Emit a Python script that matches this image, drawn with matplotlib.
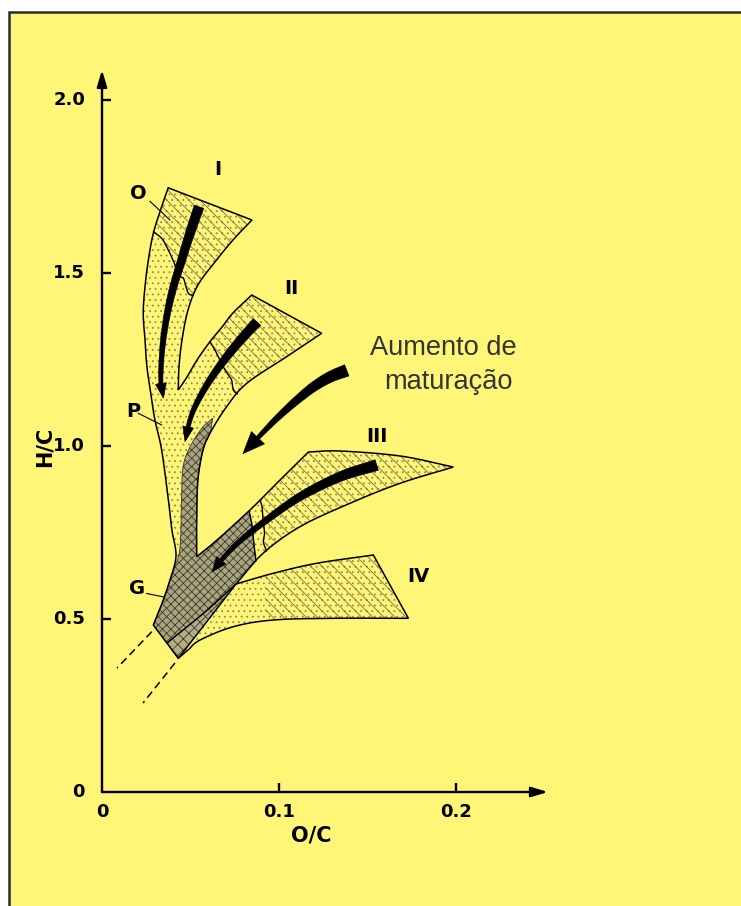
import numpy as np
import matplotlib
matplotlib.use("Agg")
import matplotlib.pyplot as plt
from matplotlib.patches import Polygon, Rectangle

W, H, DPI = 741, 906, 100
YELLOW = "#FFF577"

# ---------------- axis data ----------------
x_ticks = [0.1, 0.2]
x_tick_labels = ["0.1", "0.2"]
y_ticks = [0.5, 1.0, 1.5, 2.0]
y_tick_labels = ["0.5", "1.0", "1.5", "2.0"]
x_axis_end = 0.252
y_axis_end = 2.087

# ---------------- kerogen band outlines (O/C, H/C) ----------------
I_top = [(0.0374, 1.7462), (0.0847, 1.6532)]
I_inner = [(0.0847, 1.6532), (0.0740, 1.5954), (0.0638, 1.5318), (0.0542, 1.4653),
           (0.0486, 1.3931), (0.0452, 1.3064), (0.0435, 1.2283), (0.0431, 1.1618)]
II_left = [(0.0431, 1.1618), (0.0480, 1.1994), (0.0537, 1.2486), (0.0610, 1.3015),
           (0.0678, 1.3439), (0.0740, 1.3844), (0.0846, 1.4364)]
II_top = [(0.0846, 1.4364), (0.1241, 1.3257)]
II_inner = [(0.1241, 1.3257), (0.1043, 1.2581), (0.0818, 1.1812), (0.0704, 1.1136),
            (0.0610, 1.0367), (0.0571, 0.9884), (0.0542, 0.9017), (0.0535, 0.7861),
            (0.0535, 0.6801)]
III_upper = [(0.0535, 0.6801), (0.0650, 0.7283), (0.0836, 0.8150), (0.0989, 0.8931),
             (0.1166, 0.9827)]
III_top = [(0.1166, 0.9827), (0.1345, 0.9855), (0.1684, 0.9711), (0.1985, 0.9393)]
III_lower = [(0.1985, 0.9393), (0.1684, 0.8922), (0.1401, 0.8344), (0.1119, 0.7668),
             (0.0910, 0.6899), (0.0757, 0.6012)]
IV_upper = [(0.0757, 0.6012), (0.0968, 0.6321), (0.1213, 0.6610), (0.1533, 0.6850)]
IV_right = [(0.1533, 0.6850), (0.1731, 0.5020)]
IV_lower = [(0.1731, 0.5020), (0.1307, 0.5020), (0.0968, 0.4971), (0.0742, 0.4777),
            (0.0554, 0.4393), (0.0486, 0.4104), (0.0431, 0.3864)]
G_base = [(0.0431, 0.3864), (0.0290, 0.4827)]
outer_left = [(0.0290, 0.4827), (0.0346, 0.5549), (0.0384, 0.6127), (0.0418, 0.6821),
              (0.0395, 0.7572), (0.0375, 0.8439), (0.0337, 0.9884), (0.0299, 1.0751),
              (0.0277, 1.1474), (0.0254, 1.2283), (0.0243, 1.3064), (0.0233, 1.3835),
              (0.0243, 1.4604), (0.0262, 1.5376), (0.0290, 1.6147), (0.0337, 1.6916),
              (0.0374, 1.7462)]

# graphite-rich (G) zone
dark_left = [(0.0625, 1.0800), (0.0565, 1.0520), (0.0497, 0.9971), (0.0458, 0.9393),
             (0.0449, 0.8439), (0.0441, 0.7081), (0.0412, 0.6503), (0.0384, 0.6127),
             (0.0346, 0.5549), (0.0290, 0.4827)]
dark_base = [(0.0290, 0.4827), (0.0367, 0.4306)]
separator = [(0.0367, 0.4306), (0.0582, 0.5202), (0.0757, 0.6012)]
III_lower_tail = [(0.0757, 0.6012), (0.0870, 0.6676)]
crack_A = [(0.0870, 0.6676), (0.0859, 0.7139), (0.0847, 0.7717), (0.0831, 0.8121)]
III_upper_tail = [(0.0831, 0.8121), (0.0650, 0.7283), (0.0535, 0.6801)]
II_inner_tail = [(0.0535, 0.6801), (0.0535, 0.7861), (0.0542, 0.9017), (0.0571, 0.9884),
                 (0.0610, 1.0367), (0.0625, 1.0800)]
wedge_lower = [(0.0757, 0.6012), (0.0582, 0.4855), (0.0431, 0.3864)]

# maturity boundaries crossing the bands
crack_I = [(0.0290, 1.6194), (0.0337, 1.6003), (0.0365, 1.5760), (0.0384, 1.5569),
           (0.0412, 1.5231), (0.0422, 1.4991), (0.0459, 1.4846), (0.0469, 1.4702),
           (0.0488, 1.4413), (0.0515, 1.4350)]
crack_II = [(0.0610, 1.3015), (0.0638, 1.2775), (0.0657, 1.2581), (0.0685, 1.2292),
            (0.0714, 1.2052), (0.0732, 1.1908), (0.0742, 1.1618), (0.0765, 1.1500)]
crack_B = [(0.0893, 0.8439), (0.0904, 0.8237), (0.0910, 0.7861), (0.0918, 0.7486),
           (0.0912, 0.7225), (0.0930, 0.6965)]

# extrapolated trends
dash_upper = [(0.0281, 0.4633), (0.0085, 0.3584)]
dash_lower = [(0.0412, 0.3728), (0.0232, 0.2572)]

# evolution paths (centre lines, start -> tip)
path_I = [(0.0548, 1.6915), (0.0497, 1.6147), (0.0450, 1.5376), (0.0394, 1.4413),
          (0.0356, 1.3448), (0.0337, 1.2581), (0.0333, 1.1821), (0.0347, 1.1378)]
path_II = [(0.0876, 1.3584), (0.0799, 1.3159), (0.0705, 1.2581), (0.0610, 1.1908),
           (0.0535, 1.1234), (0.0497, 1.0751), (0.0469, 1.0124)]
path_III = [(0.1552, 0.9451), (0.1345, 0.9113), (0.1119, 0.8535), (0.0930, 0.7861),
            (0.0780, 0.7254), (0.0695, 0.6821), (0.0621, 0.6358)]
path_maturity = [(0.1383, 1.2187), (0.1288, 1.1994), (0.1194, 1.1705), (0.1100, 1.1320),
                 (0.1006, 1.0887), (0.0930, 1.0501), (0.0796, 0.9777)]

band_labels = ["I", "II", "III", "IV"]
band_label_pos = [(0.0657, 1.7977), (0.1072, 1.4558), (0.1552, 1.0269), (0.1787, 0.6223)]
zone_labels = ["O", "P", "G"]
zone_label_pos = [(0.0205, 1.7301), (0.0177, 1.0991), (0.0196, 0.5887)]
zone_leaders = [[(0.0271, 1.7072), (0.0384, 1.6532)],
                [(0.0205, 1.0945), (0.0337, 1.0607)],
                [(0.0252, 0.5737), (0.0346, 0.5639)]]


def smooth(pts, n=16):
    P = np.asarray(pts, float)
    if len(P) < 3:
        return P
    ext = np.vstack([2 * P[0] - P[1], P, 2 * P[-1] - P[-2]])
    out = []
    t = np.linspace(0, 1, n, endpoint=False)[:, None]
    for i in range(1, len(ext) - 2):
        p0, p1, p2, p3 = ext[i - 1], ext[i], ext[i + 1], ext[i + 2]
        out.append(0.5 * (2 * p1 + (-p0 + p2) * t + (2 * p0 - 5 * p1 + 4 * p2 - p3) * t ** 2
                          + (-p0 + 3 * p1 - 3 * p2 + p3) * t ** 3))
    out.append(P[-1:])
    return np.vstack(out)


def chain(*edges):
    return np.vstack([smooth(e) for e in edges])


fig = plt.figure(figsize=(W / DPI, H / DPI), dpi=DPI)
fig.patch.set_facecolor("white")
fig.add_artist(Rectangle((9 / W, -0.02), 1.05, (H - 12) / H + 0.02, transform=fig.transFigure,
                         facecolor=YELLOW, edgecolor="#2b2b2b", linewidth=1.8, zorder=0))

ax = fig.add_axes([0, 0, 1, 1])
ax.set_xlim(-102 / 1770, (W - 102) / 1770)
ax.set_ylim((792 - H) / 346, 792 / 346)
ax.set_axis_off()
ax.patch.set_visible(False)

plt.rcParams["hatch.linewidth"] = 0.6

union = chain(I_top, I_inner, II_left, II_top, II_inner, III_upper, III_top, III_lower,
              IV_upper, IV_right, IV_lower, G_base, outer_left)
base = Polygon(union, closed=True, facecolor=YELLOW, edgecolor="none", zorder=2)
ax.add_patch(base)
dots = Polygon(union, closed=True, facecolor="none", edgecolor="#8f8a55", hatch="...",
               linewidth=0, zorder=2.1)
ax.add_patch(dots)

hatch_regions = [
    crack_I + [(0.075, 1.48), (0.13, 1.75), (0.05, 1.95), (0.0, 1.75)],
    crack_II + [(0.11, 1.14), (0.17, 1.33), (0.09, 1.47), (0.064, 1.36)],
    crack_B + [(0.12, 0.72), (0.25, 0.90), (0.25, 1.05), (0.11, 1.05)],
    [(0.092, 0.40), (0.25, 0.40), (0.25, 0.76), (0.12, 0.76), (0.092, 0.66)],
]
for reg in hatch_regions:
    hp = Polygon(reg, closed=True, facecolor="none", edgecolor="#77734a", hatch="\\\\\\",
                 linewidth=0, zorder=2.2)
    ax.add_patch(hp)
    hp.set_clip_path(base)

dark = chain(dark_left, dark_base, separator, III_lower_tail, crack_A,
             III_upper_tail, II_inner_tail)
ax.add_patch(Polygon(dark, closed=True, facecolor="#aaa47c", edgecolor="#3a3a30",
                     hatch="xxxx", linewidth=0.6, zorder=3))
wedge = chain(separator, wedge_lower)
ax.add_patch(Polygon(wedge, closed=True, facecolor="#b3ad82", edgecolor="#3a3a30",
                     hatch="xxx", linewidth=0.6, zorder=3))

# outlines
ax.add_patch(Polygon(union, closed=True, facecolor="none", edgecolor="black",
                     linewidth=1.1, zorder=4))
for line in (separator, wedge_lower, crack_I, crack_II, crack_A, crack_B):
    s = smooth(line)
    ax.plot(s[:, 0], s[:, 1], color="black", lw=1.0, zorder=4, solid_capstyle="round")
for d in (dash_upper, dash_lower):
    d = np.asarray(d)
    ax.plot(d[:, 0], d[:, 1], color="black", lw=1.1, dashes=(5, 3), zorder=4)


def tapered_arrow(pts, w0, w1, head_w, head_len, z=5):
    P = ax.transData.transform(np.asarray(pts))
    C = smooth(P, 24)
    d = np.hypot(*np.diff(C, axis=0).T)
    s = np.concatenate([[0], np.cumsum(d)])
    L = s[-1]
    Lb = L - head_len
    keep = s < Lb
    bx, by = np.interp(Lb, s, C[:, 0]), np.interp(Lb, s, C[:, 1])
    shaft = np.vstack([C[keep], [bx, by]])
    ss = np.append(s[keep], Lb)
    tg = np.gradient(shaft, axis=0)
    tg /= np.hypot(tg[:, 0], tg[:, 1])[:, None]
    nrm = np.stack([-tg[:, 1], tg[:, 0]], axis=1)
    w = w0 + (w1 - w0) * ss / Lb
    left = shaft + nrm * w[:, None] / 2
    right = shaft - nrm * w[:, None] / 2
    tip = C[-1]
    dv = tip - np.array([bx, by])
    dv /= np.hypot(*dv)
    nh = np.array([-dv[1], dv[0]])
    hl = np.array([bx, by]) + nh * head_w / 2
    hr = np.array([bx, by]) - nh * head_w / 2
    poly = np.vstack([left, hl, tip, hr, right[::-1]])
    ax.add_patch(Polygon(ax.transData.inverted().transform(poly), closed=True,
                         facecolor="black", edgecolor="black", linewidth=0.4, zorder=z))


tapered_arrow(path_I, 10, 4, 11, 15)
tapered_arrow(path_II, 10, 4, 11, 15)
tapered_arrow(path_III, 11, 4, 12, 15)
tapered_arrow(path_maturity, 12, 4, 18, 22)

# axes with arrow heads
arrow_kw = dict(arrowstyle="-|>,head_length=1.0,head_width=0.3", mutation_scale=10,
                color="black", lw=1.7, shrinkA=0, shrinkB=0)
ax.annotate("", xy=(0, y_axis_end), xytext=(0, 0), arrowprops=arrow_kw, zorder=6)
ax.annotate("", xy=(x_axis_end, 0), xytext=(0, 0), arrowprops=arrow_kw, zorder=6)
for yt in y_ticks:
    ax.plot([0, 0.0052], [yt, yt], color="black", lw=1.7, solid_capstyle="butt")
for xt in x_ticks:
    ax.plot([xt, xt], [0, 0.026], color="black", lw=1.7, solid_capstyle="butt")

tick_font = dict(family="DejaVu Sans", weight="bold", fontsize=13, color="black")
for yt, lab in zip(y_ticks, y_tick_labels):
    ax.text(-0.0096, yt, lab, ha="right", va="center", **tick_font)
ax.text(-0.0096, 0, "0", ha="right", va="center", **tick_font)
ax.text(0.0, -0.0578, "0", ha="center", va="center", **tick_font)
for xt, lab in zip(x_ticks, x_tick_labels):
    ax.text(xt, -0.0578, lab, ha="center", va="center", **tick_font)

ax.text(-0.0322, 0.997, "H/C", rotation=90, ha="center", va="center",
        family="DejaVu Sans", weight="bold", fontsize=15)
ax.text(0.1180, -0.1243, "O/C", ha="center", va="center",
        family="DejaVu Sans", weight="bold", fontsize=15)

for lab, (lx, ly) in zip(band_labels, band_label_pos):
    ax.text(lx, ly, lab, ha="center", va="center", family="DejaVu Sans", weight="bold",
            fontsize=14, zorder=7)
for lab, (lx, ly), ld in zip(zone_labels, zone_label_pos, zone_leaders):
    ax.text(lx, ly, lab, ha="center", va="center", family="DejaVu Sans", weight="bold",
            fontsize=14, zorder=7)
    ld = np.asarray(ld)
    ax.plot(ld[:, 0], ld[:, 1], color="black", lw=0.8, zorder=7)

ax.text(0.1929, 1.263, "Aumento de", ha="center", va="baseline", family="Liberation Sans",
        fontsize=19.6, color="#333333", zorder=7)
ax.text(0.1955, 1.1647, "maturação", ha="center", va="baseline", family="Liberation Sans",
        fontsize=19.6, color="#333333", zorder=7)

fig.savefig("out.png", dpi=DPI, facecolor=fig.get_facecolor())
